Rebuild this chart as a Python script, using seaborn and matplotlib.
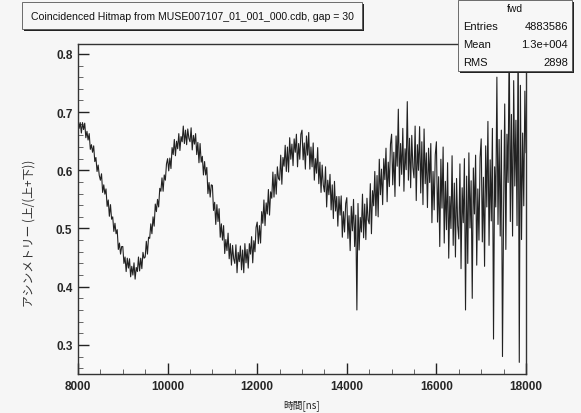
import numpy as np
import pandas as pd
import matplotlib
matplotlib.use("Agg")
import matplotlib.pyplot as plt
from matplotlib.ticker import MultipleLocator
from matplotlib.patches import Rectangle
import seaborn as sns

# Time bins [ns] (25 ns bins from 8000 to 18000)
time_ns = np.arange(8000, 18001, 25)

# Asymmetry per bin, 20 bins (500 ns) per row
asymmetry = [
    0.691, 0.672, 0.682, 0.664, 0.682, 0.670, 0.681, 0.656, 0.667, 0.652,
    0.663, 0.636, 0.644, 0.631, 0.642, 0.615, 0.622, 0.598, 0.609, 0.591,
    0.583, 0.594, 0.562, 0.575, 0.559, 0.568, 0.538, 0.549, 0.521, 0.541,
    0.516, 0.520, 0.495, 0.509, 0.491, 0.498, 0.464, 0.475, 0.456, 0.469,
    0.469, 0.440, 0.451, 0.426, 0.449, 0.432, 0.448, 0.417, 0.435, 0.420,
    0.441, 0.413, 0.433, 0.426, 0.451, 0.427, 0.449, 0.431, 0.459, 0.449,
    0.451, 0.478, 0.456, 0.485, 0.483, 0.508, 0.491, 0.520, 0.504, 0.542,
    0.529, 0.550, 0.537, 0.569, 0.564, 0.587, 0.564, 0.592, 0.583, 0.611,
    0.620, 0.599, 0.621, 0.603, 0.639, 0.627, 0.653, 0.625, 0.650, 0.637,
    0.663, 0.634, 0.658, 0.649, 0.676, 0.646, 0.669, 0.644, 0.671, 0.655,
    0.649, 0.673, 0.635, 0.660, 0.645, 0.663, 0.627, 0.648, 0.613, 0.646,
    0.614, 0.624, 0.592, 0.615, 0.592, 0.605, 0.560, 0.579, 0.554, 0.575,
    0.574, 0.531, 0.545, 0.507, 0.541, 0.512, 0.534, 0.485, 0.508, 0.480,
    0.505, 0.457, 0.481, 0.462, 0.492, 0.448, 0.474, 0.437, 0.471, 0.448,
    0.440, 0.472, 0.424, 0.459, 0.443, 0.470, 0.429, 0.463, 0.424, 0.474,
    0.441, 0.464, 0.432, 0.474, 0.456, 0.486, 0.441, 0.479, 0.460, 0.502,
    0.511, 0.474, 0.505, 0.475, 0.529, 0.509, 0.549, 0.505, 0.544, 0.525,
    0.567, 0.523, 0.563, 0.552, 0.597, 0.554, 0.593, 0.559, 0.606, 0.586,
    0.583, 0.626, 0.576, 0.622, 0.607, 0.643, 0.598, 0.640, 0.597, 0.656,
    0.619, 0.645, 0.608, 0.654, 0.631, 0.662, 0.606, 0.646, 0.619, 0.662,
    0.669, 0.618, 0.647, 0.602, 0.659, 0.626, 0.665, 0.602, 0.640, 0.606,
    0.647, 0.583, 0.620, 0.595, 0.639, 0.577, 0.614, 0.562, 0.609, 0.575,
    0.563, 0.606, 0.537, 0.583, 0.558, 0.593, 0.532, 0.575, 0.517, 0.581,
    0.530, 0.555, 0.504, 0.555, 0.523, 0.556, 0.485, 0.529, 0.494, 0.543,
    0.553, 0.483, 0.522, 0.462, 0.538, 0.496, 0.550, 0.469, 0.523, 0.360,
    0.543, 0.463, 0.519, 0.494, 0.559, 0.484, 0.542, 0.481, 0.552, 0.515,
    0.508, 0.577, 0.491, 0.565, 0.539, 0.598, 0.522, 0.591, 0.520, 0.619,
    0.558, 0.602, 0.541, 0.620, 0.584, 0.638, 0.546, 0.614, 0.572, 0.645,
    0.662, 0.575, 0.631, 0.555, 0.659, 0.607, 0.705, 0.573, 0.646, 0.593,
    0.672, 0.564, 0.637, 0.601, 0.718, 0.583, 0.655, 0.570, 0.660, 0.605,
    0.587, 0.676, 0.548, 0.644, 0.600, 0.675, 0.561, 0.649, 0.541, 0.671,
    0.577, 0.630, 0.536, 0.638, 0.579, 0.646, 0.510, 0.598, 0.532, 0.627,
    0.649, 0.511, 0.589, 0.469, 0.619, 0.535, 0.640, 0.475, 0.581, 0.498,
    0.613, 0.449, 0.555, 0.500, 0.625, 0.471, 0.578, 0.451, 0.586, 0.505,
    0.482, 0.611, 0.431, 0.570, 0.510, 0.620, 0.360, 0.590, 0.440, 0.630,
    0.501, 0.582, 0.380, 0.604, 0.525, 0.626, 0.437, 0.568, 0.480, 0.622,
    0.654, 0.477, 0.588, 0.435, 0.642, 0.537, 0.684, 0.471, 0.618, 0.513,
    0.672, 0.310, 0.606, 0.537, 0.760, 0.507, 0.653, 0.487, 0.669, 0.280,
    0.530, 0.714, 0.464, 0.662, 0.579, 0.830, 0.512, 0.696, 0.487, 0.754,
    0.573, 0.686, 0.505, 0.840, 0.270, 0.746, 0.481, 0.664, 0.539, 0.736,
    0.630,
]

title_text = "Coincidenced Hitmap from MUSE007107_01_001_000.cdb, gap = 30"
stats_name = "fwd"
stats_rows = [("Entries", "4883586"), ("Mean", "1.3e+004"), ("RMS", "2898")]
x_label = "時間[ns]"
y_label = "アシンメトリー (上/(上+下))"

df = pd.DataFrame({"t": time_ns, "asym": asymmetry})

sns.set_theme(style="white")
plt.rcParams["font.family"] = ["Liberation Sans", "DejaVu Sans"]

W, H = 581, 414
fig = plt.figure(figsize=(W / 100, H / 100), dpi=100, facecolor="#f6f6f6")


def fx(px):
    return px / W


def fy(py):
    return 1 - py / H


ax = fig.add_axes([fx(78), fy(375), fx(526) - fx(78), fy(45) - fy(375)])
ax.set_facecolor("#f9f9f9")

sns.lineplot(data=df, x="t", y="asym", ax=ax, color="#222222",
             linewidth=0.8, estimator=None, sort=False)

ax.set_xlim(8000, 18000)
ax.set_ylim(0.25, 0.817)

ax.xaxis.set_major_locator(MultipleLocator(2000))
ax.xaxis.set_minor_locator(MultipleLocator(500))
ax.yaxis.set_major_locator(MultipleLocator(0.1))
ax.yaxis.set_minor_locator(MultipleLocator(0.02))
ax.tick_params(axis="both", which="major", direction="in", length=8,
               width=1.0, color="#222222", labelsize=8.5, pad=4)
ax.tick_params(axis="both", which="minor", direction="in", length=3.5,
               width=0.7, color="#666666")
ax.tick_params(axis="both", which="both", top=False, right=False,
               bottom=True, left=True)
ax.set_xticklabels([f"{int(v)}" for v in ax.get_xticks()], fontweight="bold")
ax.set_yticks([0.3, 0.4, 0.5, 0.6, 0.7, 0.8])
ax.set_yticklabels(["0.3", "0.4", "0.5", "0.6", "0.7", "0.8"], fontweight="bold")

for side, sp in ax.spines.items():
    sp.set_visible(True)
    sp.set_color("#333333")
    sp.set_linewidth(1.0)

ax.set_xlabel(x_label, fontsize=7, family=["Noto Sans CJK JP", "DejaVu Sans"],
              color="#222222")
ax.xaxis.set_label_coords(0.5, -0.075)
ax.set_ylabel(y_label, fontsize=8.5, family=["Noto Sans CJK JP", "DejaVu Sans"],
              color="#333333")
ax.yaxis.set_label_coords(-0.095, 0.43)

# Title box with drop shadow
tx0, ty0, tx1, ty1 = 22, 3, 362, 30
fig.patches.append(Rectangle((fx(tx0 + 2), fy(ty1 + 2)), fx(tx1 - tx0), fy(ty0) - fy(ty1),
                             transform=fig.transFigure, facecolor="#222222",
                             edgecolor="none", zorder=5))
fig.patches.append(Rectangle((fx(tx0), fy(ty1)), fx(tx1 - tx0), fy(ty0) - fy(ty1),
                             transform=fig.transFigure, facecolor="#f7f7f7",
                             edgecolor="#555555", linewidth=0.6, zorder=6))
fig.text(fx((tx0 + tx1) / 2), fy(17), title_text, ha="center", va="center",
         fontsize=7.6, color="#111111", zorder=7)

# Statistics box
sx0, sy0, sx1, sy1 = 458, 1, 572, 72
fig.patches.append(Rectangle((fx(sx0 + 2), fy(sy1 + 2)), fx(sx1 - sx0), fy(sy0) - fy(sy1),
                             transform=fig.transFigure, facecolor="#222222",
                             edgecolor="none", zorder=5))
fig.patches.append(Rectangle((fx(sx0), fy(sy1)), fx(sx1 - sx0), fy(sy0) - fy(sy1),
                             transform=fig.transFigure, facecolor="#f7f7f7",
                             edgecolor="#555555", linewidth=0.6, zorder=6))
fig.text(fx((sx0 + sx1) / 2), fy(9), stats_name, ha="center", va="center",
         fontsize=7.5, color="#111111", zorder=7)
for i, (k, v) in enumerate(stats_rows):
    yy = 27 + i * 18
    fig.text(fx(sx0 + 5), fy(yy), k, ha="left", va="center", fontsize=8,
             color="#111111", zorder=7)
    fig.text(fx(sx1 - 4), fy(yy), v, ha="right", va="center", fontsize=8,
             color="#111111", zorder=7)

fig.savefig("out.png", dpi=100, facecolor=fig.get_facecolor())
